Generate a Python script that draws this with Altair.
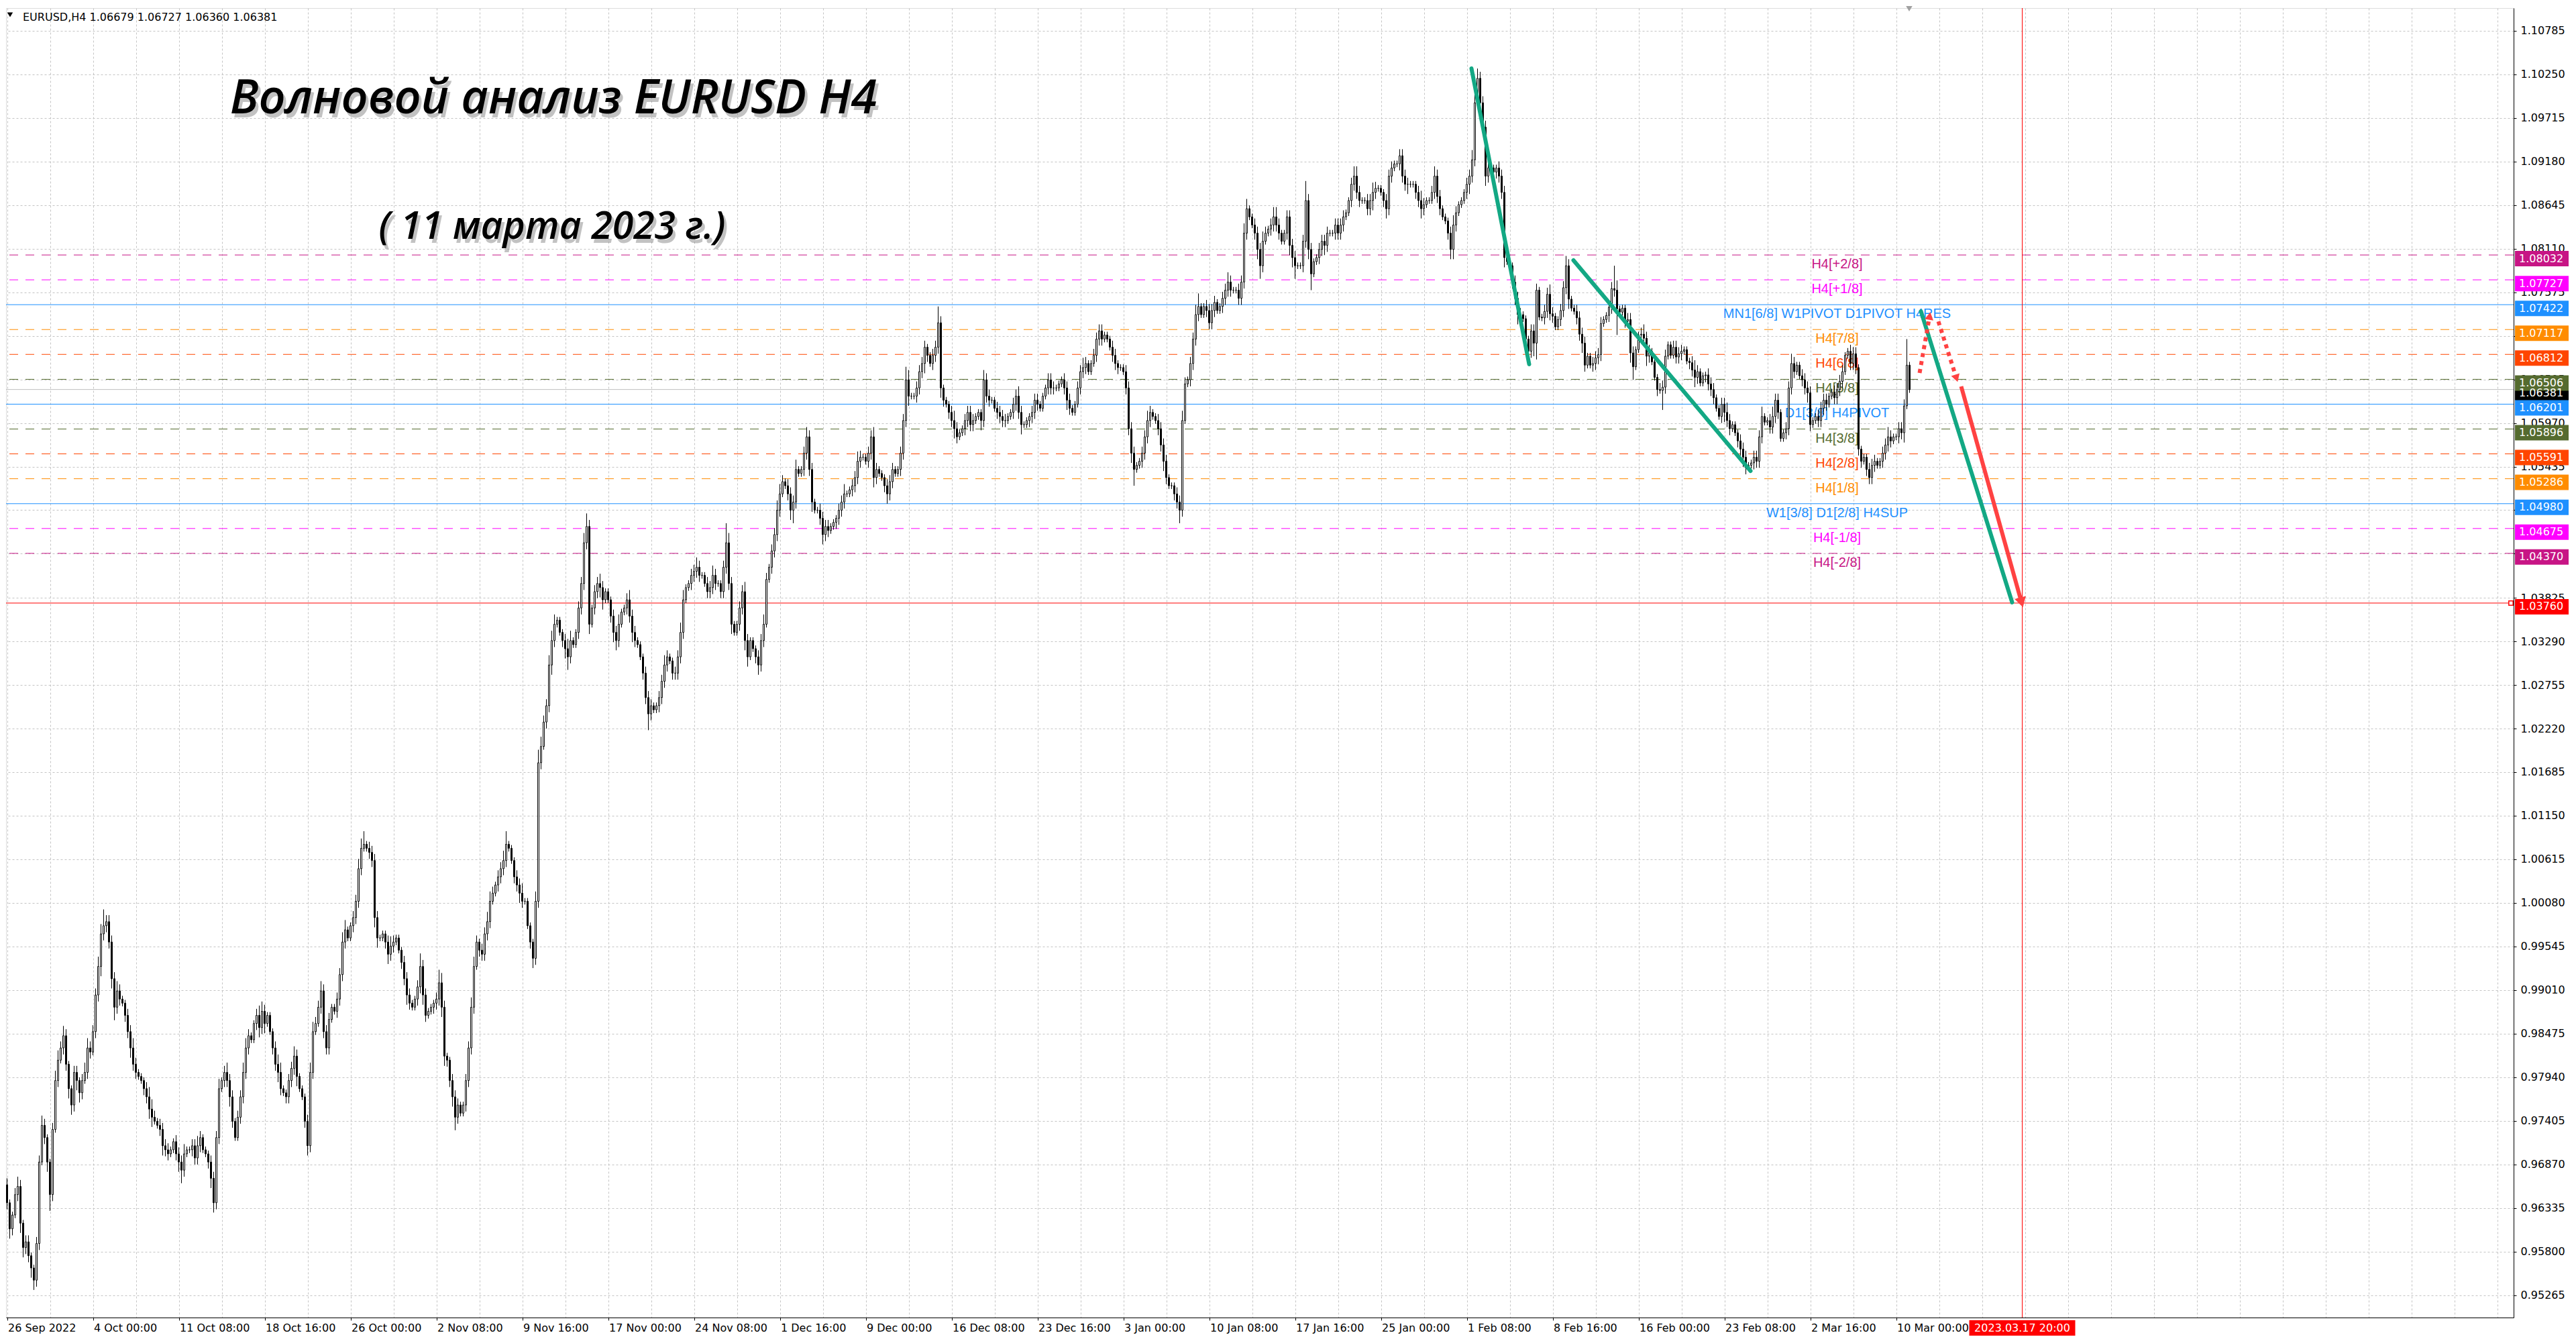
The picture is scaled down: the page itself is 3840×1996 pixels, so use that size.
import json
import math
import altair as alt
import pandas as pd

# ------------------------------------------------------------------ data
HEADER_TEXT = "EURUSD,H4  1.06679 1.06727 1.06360 1.06381"
TITLE_TEXT = "Волновой анализ EURUSD H4"
SUBTITLE_TEXT = "( 11 марта 2023 г.)"

# H4 candles, prices x 10000; open of each bar = close of previous bar
FIRST_OPEN = 9662
CLOSES = [
    9640, 9608,
    9625, 9650, 9660, 9615, 9585, 9592,
    9575, 9560, 9545, 9590, 9690, 9735,
    9720, 9690, 9650, 9730, 9790, 9815,
    9830, 9845, 9810, 9780, 9760, 9800,
    9790, 9775, 9790, 9800, 9830, 9825,
    9850, 9895, 9930, 9970, 9980, 9985,
    9960, 9915, 9880, 9900, 9890, 9885,
    9870, 9850, 9830, 9810, 9800, 9795,
    9790, 9780, 9770, 9755, 9745, 9740,
    9735, 9730, 9710, 9705, 9700, 9705,
    9715, 9700, 9690, 9680, 9700, 9705,
    9705, 9710, 9695, 9710, 9720, 9705,
    9700, 9690, 9670, 9640, 9720, 9780,
    9790, 9800, 9790, 9770, 9740, 9720,
    9745, 9770, 9800, 9830, 9845, 9840,
    9860, 9870, 9855, 9875, 9860, 9870,
    9850, 9830, 9810, 9800, 9780, 9775,
    9770, 9790, 9805, 9820, 9795, 9780,
    9770, 9740, 9710, 9800, 9850, 9860,
    9880, 9900, 9850, 9830, 9865, 9880,
    9875, 9890, 9920, 9960, 9975, 9965,
    9980, 9990, 10010, 10050, 10075, 10080,
    10075, 10070, 10060, 9990, 9965, 9965,
    9970, 9960, 9945, 9955, 9960, 9965,
    9950, 9935, 9915, 9895, 9885, 9880,
    9890, 9905, 9930, 9895, 9870, 9875,
    9880, 9885, 9890, 9910, 9880, 9820,
    9815, 9790, 9770, 9745, 9760, 9750,
    9760, 9790, 9830, 9880, 9930, 9960,
    9950, 9945, 9970, 9985, 10010, 10020,
    10030, 10040, 10050, 10060, 10080, 10075,
    10060, 10040, 10030, 10020, 10010, 10010,
    9980, 9960, 9940, 10010, 10180, 10200,
    10230, 10250, 10300, 10330, 10350, 10355,
    10340, 10330, 10320, 10310, 10330, 10325,
    10340, 10370, 10400, 10450, 10470, 10350,
    10370, 10390, 10400, 10395, 10380, 10390,
    10380, 10360, 10340, 10330, 10350, 10365,
    10370, 10380, 10360, 10340, 10330, 10325,
    10310, 10290, 10260, 10240, 10250, 10245,
    10250, 10260, 10280, 10300, 10310, 10305,
    10290, 10290, 10310, 10340, 10380, 10395,
    10400, 10410, 10415, 10420, 10410, 10410,
    10400, 10390, 10395, 10410, 10400, 10400,
    10390, 10420, 10450, 10400, 10350, 10340,
    10350, 10370, 10390, 10330, 10310, 10330,
    10320, 10310, 10300, 10330, 10350, 10405,
    10420, 10440, 10460, 10490, 10510, 10525,
    10520, 10510, 10490, 10500, 10540, 10535,
    10540, 10560, 10580, 10540, 10500, 10490,
    10490, 10480, 10460, 10470, 10465, 10470,
    10475, 10480, 10490, 10500, 10510, 10510,
    10515, 10520, 10530, 10550, 10555, 10555,
    10550, 10560, 10580, 10530, 10540, 10535,
    10530, 10520, 10510, 10525, 10540, 10535,
    10540, 10560, 10600, 10650, 10630, 10630,
    10630, 10640, 10660, 10670, 10690, 10680,
    10670, 10680, 10690, 10720, 10640, 10625,
    10620, 10610, 10600, 10590, 10580, 10585,
    10590, 10600, 10610, 10595, 10600, 10605,
    10610, 10600, 10650, 10630, 10625, 10625,
    10615, 10610, 10605, 10600, 10600, 10605,
    10610, 10620, 10630, 10610, 10595, 10595,
    10600, 10605, 10610, 10625, 10620, 10615,
    10630, 10640, 10650, 10640, 10640, 10640,
    10645, 10650, 10640, 10625, 10615, 10610,
    10620, 10640, 10660, 10665, 10670, 10660,
    10670, 10680, 10700, 10710, 10700, 10705,
    10700, 10690, 10680, 10670, 10665, 10665,
    10660, 10640, 10590, 10560, 10540, 10545,
    10550, 10560, 10580, 10600, 10610, 10605,
    10600, 10590, 10570, 10550, 10530, 10520,
    10520, 10510, 10500, 10490, 10600, 10645,
    10650, 10670, 10700, 10730, 10740, 10730,
    10740, 10735, 10720, 10735, 10745, 10735,
    10740, 10750, 10760, 10770, 10760, 10760,
    10760, 10750, 10770, 10830, 10860, 10850,
    10840, 10830, 10810, 10790, 10820, 10830,
    10835, 10840, 10850, 10840, 10830, 10820,
    10830, 10850, 10815, 10800, 10790, 10790,
    10790, 10820, 10870, 10810, 10780, 10795,
    10800, 10810, 10820, 10815, 10830, 10830,
    10830, 10840, 10830, 10840, 10850, 10855,
    10870, 10890, 10900, 10880, 10870, 10870,
    10870, 10860, 10870, 10880, 10885, 10885,
    10880, 10870, 10860, 10900, 10910, 10915,
    10915, 10925, 10900, 10890, 10890, 10890,
    10890, 10880, 10870, 10860, 10865, 10870,
    10870, 10880, 10900, 10875, 10860, 10850,
    10845, 10830, 10810, 10840, 10855, 10865,
    10870, 10880, 10890, 10900, 10920, 10990,
    11020, 10990, 10960, 10900, 10910, 10910,
    10905, 10910, 10900, 10880, 10800, 10795,
    10790, 10770, 10750, 10730, 10730, 10725,
    10700, 10685, 10710, 10695, 10760, 10727,
    10726, 10734, 10755, 10731, 10728, 10715,
    10724, 10735, 10763, 10790, 10749, 10738,
    10734, 10726, 10706, 10695, 10668, 10679,
    10668, 10670, 10677, 10681, 10719, 10724,
    10729, 10739, 10762, 10760, 10737, 10733,
    10738, 10722, 10724, 10683, 10666, 10687,
    10705, 10706, 10701, 10679, 10685, 10672,
    10653, 10638, 10637, 10641, 10679, 10693,
    10680, 10690, 10678, 10682, 10685, 10687,
    10673, 10671, 10662, 10653, 10660, 10646,
    10655, 10656, 10645, 10638, 10628, 10615,
    10605, 10620, 10610, 10600, 10590, 10595,
    10585, 10575, 10565, 10555, 10542, 10545,
    10548, 10555, 10550, 10580, 10605, 10598,
    10600, 10592, 10605, 10625, 10610, 10578,
    10585, 10590, 10640, 10670, 10660, 10668,
    10655, 10650, 10640, 10634, 10595, 10600,
    10605, 10600, 10615, 10625, 10620, 10630,
    10635, 10628, 10638, 10648, 10660, 10680,
    10685, 10670, 10682, 10665, 10565, 10550,
    10555, 10540, 10530, 10545, 10550, 10545,
    10550, 10560, 10570, 10580, 10575, 10580,
    10580, 10590, 10585, 10618, 10668, 10638,
]
# wick lengths per bar, in steps of WICK_STEP pips (one digit per bar)
WICK_STEP = 4
UP_WICK = (
    "21 123212 211223 211233 232112 212332 223352 222321 122321 112332 122221 "
    "122231 122321 112223 123221 223321 123321 112331 122321 112332 232221 "
    "122331 122334 122221 112321 112221 124221 112432 112221 122332 122332 "
    "122341 112231 111343 223331 112331 122342 122321 112231 123221 112221 "
    "122321 122331 122321 122321 126321 122321 112232 122332 122231 123221 "
    "122221 112231 122321 122321 112221 122431 122221 122521 112321 122221 "
    "113221 122221 122321 112221 112221 112221 122321 122221 112211 122221 "
    "122321 122221 112232 122341 122221 122321 122331 122232 123321 122221 "
    "126221 122221 122221 123321 122321 112221 122221 112321 123221 112321 "
    "112233 322231 112221 112221 112221 122321 122321 122221 122221 112731 "
    "112221 123221 112221 122221 112321 112221 122321 112221 122231 123221 "
    "122321 122221 122221 122221 122211 112221 122321 122281"
)
DN_WICK = (
    "23 212332 233221 235212 122332 332122 122322 234221 223221 122331 123221 "
    "123421 122221 123322 122321 122221 123231 122321 222231 123221 122221 "
    "122221 122221 122331 123221 122321 122321 122233 223421 122221 222221 "
    "122221 122321 123222 122321 123421 122223 122331 123321 122321 122521 "
    "122221 222221 122221 122221 222231 122331 123221 122221 123421 122231 "
    "123221 122221 122221 122321 123221 122231 122232 122232 122321 122221 "
    "132221 122221 122231 122221 112221 112321 112221 112221 112221 122351 "
    "122221 122321 122421 122221 122221 122221 122221 123421 122221 123341 "
    "122351 122321 122221 122221 122321 123221 122231 122321 112221 123321 "
    "112322 122321 122231 122341 122451 122221 122231 122321 122221 122281 "
    "122341 122321 121621 112221 122321 122221 123221 122321 122221 122221 "
    "122221 122321 122221 122221 122222 122221 122221 122311"
)

TIME_LABELS = [
    "26 Sep 2022", "4 Oct 00:00", "11 Oct 08:00", "18 Oct 16:00", "26 Oct 00:00",
    "2 Nov 08:00", "9 Nov 16:00", "17 Nov 00:00", "24 Nov 08:00", "1 Dec 16:00",
    "9 Dec 00:00", "16 Dec 08:00", "23 Dec 16:00", "3 Jan 00:00", "10 Jan 08:00",
    "17 Jan 16:00", "25 Jan 00:00", "1 Feb 08:00", "8 Feb 16:00", "16 Feb 00:00",
    "23 Feb 08:00", "2 Mar 16:00", "10 Mar 00:00",
]
BARS_PER_LABEL = 32
BARS_PER_GRID = 16
LAST_GRID_BAR = 928

Y_TICKS = [
    1.10785, 1.10250, 1.09715, 1.09180, 1.08645, 1.08110, 1.07575, 1.07040,
    1.06505, 1.05970, 1.05435, 1.04900, 1.04365, 1.03825, 1.03290, 1.02755,
    1.02220, 1.01685, 1.01150, 1.00615, 1.00080, 0.99545, 0.99010, 0.98475,
    0.97940, 0.97405, 0.96870, 0.96335, 0.95800, 0.95265,
]

LEVEL_PRICES = [1.08032, 1.07727, 1.07422, 1.07117, 1.06812, 1.06506, 1.06201,
                1.05896, 1.05591, 1.05286, 1.04980, 1.04675, 1.04370, 1.03760]
LEVEL_NAMES = ["H4[+2/8]", "H4[+1/8]", "MN1[6/8] W1PIVOT D1PIVOT H4RES", "H4[7/8]",
               "H4[6/8]", "H4[5/8]", "D1[3/8] H4PIVOT", "H4[3/8]", "H4[2/8]",
               "H4[1/8]", "W1[3/8] D1[2/8] H4SUP", "H4[-1/8]", "H4[-2/8]", ""]
LEVEL_COLORS = ["#C71585", "#FF00FF", "#1E90FF", "#FF8C00", "#FF4500", "#556B2F",
                "#1E90FF", "#556B2F", "#FF4500", "#FF8C00", "#1E90FF", "#FF00FF",
                "#C71585", "#FF0000"]
LEVEL_STYLE = ["dash", "dash", "solid", "dash", "dash", "dash", "solid", "dash",
               "dash", "dash", "solid", "dash", "dash", "solid"]
BID_PRICE = 1.06381
FORECAST_BAR = 751
FORECAST_TEXT = "2023.03.17 20:00"

# wave annotations (bar index, price)
GREEN_X1 = [545.75, 583.75, 713.25]
GREEN_Y1 = [1.10321, 1.07967, 1.07341]
GREEN_X2 = [567.25, 649.75, 747.25]
GREEN_Y2 = [1.06691, 1.05382, 1.03768]
RED_X1 = [712.75, 719.75, 728.25]
RED_Y1 = [1.06584, 1.07217, 1.06419]
RED_X2 = [716.5, 726.5, 750.75]
RED_Y2 = [1.07283, 1.06518, 1.03768]
RED_STYLE = ["dotted", "dotted", "solid"]

# ------------------------------------------------------------------ layout
W = 3738
H = 1952
PX_PER_BAR = 4.0
X_DOMAIN = [-0.375, -0.375 + W / PX_PER_BAR]
Y_DOMAIN = [0.949914, 1.110625]
PX_PER_PRICE = H / (Y_DOMAIN[1] - Y_DOMAIN[0])
LABEL_BAR = 682
FONT = "DejaVu Sans"
TEXT_FONT = "Liberation Sans"
TITLE_FONT = "Open Sans"
GREEN = "#13A884"
RED = "#FF4242"

# ------------------------------------------------------------------ tables
up = UP_WICK.replace(" ", "")
dn = DN_WICK.replace(" ", "")
rows = []
prev = FIRST_OPEN
for i, c in enumerate(CLOSES):
    o = prev
    hi = max(o, c) + int(up[i]) * WICK_STEP
    lo = min(o, c) - int(dn[i]) * WICK_STEP
    rows.append({"i": i, "o": o / 1e4, "c": c / 1e4, "h": hi / 1e4, "l": lo / 1e4,
                 "fill": "#ffffff" if c > o else "#000000"})
    prev = c
candles = pd.DataFrame(rows)

levels = pd.DataFrame({"price": LEVEL_PRICES, "name": LEVEL_NAMES,
                       "color": LEVEL_COLORS, "style": LEVEL_STYLE})
levels["lx"] = LABEL_BAR
levels["lbl"] = [f"{p:.5f}" for p in LEVEL_PRICES]

boxes = pd.concat([
    pd.DataFrame({"price": [BID_PRICE], "color": ["#000000"], "lbl": [f"{BID_PRICE:.5f}"]}),
    levels[["price", "color", "lbl"]],
], ignore_index=True)

green = pd.DataFrame({"x1": GREEN_X1, "y1": GREEN_Y1, "x2": GREEN_X2, "y2": GREEN_Y2})
red = pd.DataFrame({"x1": RED_X1, "y1": RED_Y1, "x2": RED_X2, "y2": RED_Y2, "style": RED_STYLE})


def head_angle(r):
    dx = (r.x2 - r.x1) * PX_PER_BAR
    dy = -(r.y2 - r.y1) * PX_PER_PRICE
    return math.degrees(math.atan2(dx, -dy)) % 360


red["ang"] = red.apply(head_angle, axis=1)
red["hsize"] = [170 if s == "dotted" else 300 for s in RED_STYLE]

# ------------------------------------------------------------------ scales / axes
XS = alt.Scale(domain=X_DOMAIN, nice=False, zero=False)
YS = alt.Scale(domain=Y_DOMAIN, nice=False, zero=False)
last_label = BARS_PER_LABEL * (len(TIME_LABELS) - 1)
is_label = f"datum.value % {BARS_PER_LABEL} == 0 && datum.value <= {last_label}"
XAX = alt.Axis(
    values=list(range(0, LAST_GRID_BAR + 1, BARS_PER_GRID)),
    labelExpr=f"{is_label} ? {json.dumps(TIME_LABELS, ensure_ascii=False)}[datum.value / {BARS_PER_LABEL}] : ''",
    grid=True, gridColor="#c4c4c4", gridDash=[3, 3], gridWidth=1,
    tickSize=4, tickColor="#000000",
    tickOpacity={"condition": {"test": is_label, "value": 1}, "value": 0},
    labelAlign="left", labelBaseline="top", labelPadding=3, labelOffset=1,
    labelFont=FONT, labelFontSize=16, labelColor="#000000",
    labelOverlap=False, labelFlush=False, domainColor="#000000", title=None,
)
YAX = alt.Axis(
    orient="right", values=Y_TICKS, format=".5f",
    grid=True, gridColor="#c4c4c4", gridDash=[3, 3], gridWidth=1,
    tickSize=4, tickColor="#000000", labelPadding=6,
    labelFont=FONT, labelFontSize=16, labelColor="#000000",
    labelOverlap=False, labelFlush=False, domainColor="#000000", title=None,
)


def X(f):
    return alt.X(f"{f}:Q", scale=XS, axis=XAX)


def Y(f):
    return alt.Y(f"{f}:Q", scale=YS, axis=YAX)


# ------------------------------------------------------------------ layers
level_rules = alt.Chart(levels).mark_rule(strokeWidth=1).encode(
    y=Y("price"),
    color=alt.Color("color:N", scale=None),
    strokeDash=alt.StrokeDash("style:N", scale=alt.Scale(domain=["dash", "solid"],
                                                          range=[[13, 11], [1, 0]]), legend=None),
)
bid_rule = alt.Chart(pd.DataFrame({"price": [BID_PRICE]})).mark_rule(
    color="#C0C0C0", strokeWidth=1).encode(y=Y("price"))

level_text = alt.Chart(levels).mark_text(
    align="center", baseline="top", dy=4, font=TEXT_FONT, fontSize=20).encode(
    x=X("lx"), y=Y("price"), text="name:N", color=alt.Color("color:N", scale=None))

wicks = alt.Chart(candles).mark_rule(color="#000000", strokeWidth=1).encode(
    x=X("i"), y=Y("l"), y2="h")
bodies = alt.Chart(candles).transform_calculate(
    xa="datum.i - 0.25", xb="datum.i + 0.25").mark_rect(
    stroke="#000000", strokeWidth=1).encode(
    x=X("xa"), x2="xb", y=Y("o"), y2="c", fill=alt.Fill("fill:N", scale=None))

green_lines = alt.Chart(green).mark_rule(color=GREEN, strokeWidth=6, strokeCap="round").encode(
    x=X("x1"), x2="x2", y=Y("y1"), y2="y2")
red_dotted = alt.Chart(red).transform_filter("datum.style == 'dotted'").mark_rule(
    color=RED, strokeWidth=6, strokeDash=[6, 6]).encode(x=X("x1"), x2="x2", y=Y("y1"), y2="y2")
red_solid = alt.Chart(red).transform_filter("datum.style == 'solid'").mark_rule(
    color=RED, strokeWidth=6).encode(x=X("x1"), x2="x2", y=Y("y1"), y2="y2")
red_heads = alt.Chart(red).mark_point(shape="triangle-up", filled=True, color=RED, opacity=1).encode(
    x=X("x2"), y=Y("y2"), angle=alt.Angle("ang:Q", scale=None), size=alt.Size("hsize:Q", scale=None))

forecast_rule = alt.Chart(pd.DataFrame({"fb": [FORECAST_BAR]})).mark_rule(
    color="#FF0000", strokeWidth=1).encode(x=X("fb"))
red_square = alt.Chart(pd.DataFrame({"price": [LEVEL_PRICES[-1]]})).mark_square(
    size=40, fill="#ffffff", stroke="#FF0000", strokeWidth=1.5, opacity=1).encode(
    x=alt.value(W - 4), y=Y("price"))

box_rects = alt.Chart(boxes).mark_rect(yOffset=-6, y2Offset=17).encode(
    x=alt.value(W + 2), x2=alt.value(W + 82), y=Y("price"), y2="price",
    fill=alt.Fill("color:N", scale=None))
box_text = alt.Chart(boxes).mark_text(
    align="left", baseline="middle", dy=5.5, font=FONT, fontSize=16, color="#ffffff").encode(
    x=alt.value(W + 8), y=Y("price"), text="lbl:N")

fc_df = pd.DataFrame({"fb": [FORECAST_BAR], "t": [FORECAST_TEXT]})
fc_box = alt.Chart(fc_df).mark_rect(xOffset=-79, x2Offset=79, color="#FF0000").encode(
    x=X("fb"), x2="fb", y=alt.value(H + 4), y2=alt.value(H + 27))
fc_text = alt.Chart(fc_df).mark_text(
    align="center", baseline="middle", font=FONT, fontSize=16, color="#ffffff").encode(
    x=X("fb"), y=alt.value(H + 16), text="t:N")

title_df = pd.DataFrame({"t": [TITLE_TEXT]})
sub_df = pd.DataFrame({"t": [SUBTITLE_TEXT]})


def big_text(df, size, x, y, shadow):
    extra = dict(color="#7a7a7a", opacity=0.45, dx=4, dy=6) if shadow else dict(color="#000000")
    return alt.Chart(df).mark_text(
        align="center", baseline="alphabetic", font=TITLE_FONT, fontStyle="italic",
        fontWeight=600, fontSize=size, **extra).encode(
        x=alt.value(x), y=alt.value(y), text="t:N")


title_shadow = big_text(title_df, 70, 816, 157, True)
title = big_text(title_df, 70, 816, 157, False)
sub_shadow = big_text(sub_df, 57, 814, 344, True)
subtitle = big_text(sub_df, 57, 814, 344, False)

header_df = pd.DataFrame({"t": [HEADER_TEXT]})
header = alt.Chart(header_df).mark_text(
    align="left", baseline="alphabetic", font=FONT, fontSize=16, color="#000000").encode(
    x=alt.value(25), y=alt.value(19), text="t:N")
header_tri = alt.Chart(header_df).mark_point(
    shape="triangle-down", filled=True, color="#000000", size=70, opacity=1).encode(
    x=alt.value(6), y=alt.value(10))
shift_tri = alt.Chart(header_df).mark_point(
    shape="triangle-down", filled=True, color="#A0A0A0", size=90, opacity=1).encode(
    x=alt.value(2837), y=alt.value(1))

chart = alt.layer(
    level_rules, bid_rule, forecast_rule, level_text, wicks, bodies,
    green_lines, red_dotted, red_solid, red_heads, red_square,
    box_rects, box_text, fc_box, fc_text,
    title_shadow, title, sub_shadow, subtitle, header, header_tri, shift_tri,
).properties(
    width=W, height=H,
    padding={"left": 0, "top": 0, "right": 0, "bottom": 0},
).configure_view(stroke="#000000", strokeWidth=1).configure(background="#ffffff")

chart.save("out.html", embed_options={"renderer": "svg", "actions": False})
